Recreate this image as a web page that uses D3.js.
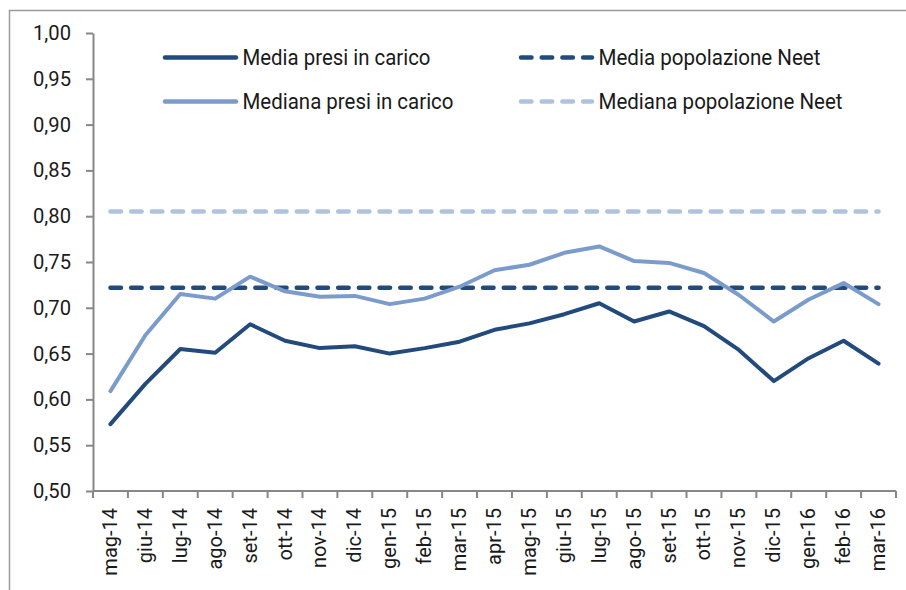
<!DOCTYPE html>
<html>
<head>
<meta charset="utf-8">
<script src="https://cdn.jsdelivr.net/npm/d3@7"></script>
<style>
  body { margin: 0; background: #fff; }
  text { font-family: "Roboto", "DejaVu Sans Condensed", sans-serif; fill: #1a1a1a; }
</style>
</head>
<body>
<svg id="chart" width="906" height="590"></svg>
<script>
// Months on the x axis
const months = ["mag-14", "giu-14", "lug-14", "ago-14", "set-14", "ott-14", "nov-14", "dic-14",
  "gen-15", "feb-15", "mar-15", "apr-15", "mag-15", "giu-15", "lug-15", "ago-15", "set-15",
  "ott-15", "nov-15", "dic-15", "gen-16", "feb-16", "mar-16"];

// Series values
const mediaPresi = [0.573, 0.617, 0.655, 0.651, 0.682, 0.664, 0.656, 0.658, 0.650, 0.656, 0.663,
  0.676, 0.683, 0.693, 0.705, 0.685, 0.696, 0.680, 0.654, 0.620, 0.645, 0.664, 0.639];
const medianaPresi = [0.609, 0.670, 0.715, 0.710, 0.734, 0.718, 0.712, 0.713, 0.704, 0.710, 0.723,
  0.741, 0.747, 0.760, 0.767, 0.751, 0.749, 0.738, 0.714, 0.685, 0.709, 0.727, 0.704];
const mediaNeet = 0.722;
const medianaNeet = 0.805;

const yTicks = [0.50, 0.55, 0.60, 0.65, 0.70, 0.75, 0.80, 0.85, 0.90, 0.95, 1.00];

// width is the rendered width of the label in the original (condensed font)
const legendItems = [
  { label: "Media presi in carico", color: "#234a7c", dash: null, width: 188 },
  { label: "Media popolazione Neet", color: "#234a7c", dash: "10.5,10.2", width: 222 },
  { label: "Mediana presi in carico", color: "#7b9ccb", dash: null, width: 211 },
  { label: "Mediana popolazione Neet", color: "#b0c2dd", dash: "10.5,10.2", width: 244 }
];

const svg = d3.select("#chart");
const axisColor = "#878787";

// Outer frame (only top and left edges are visible)
svg.append("path")
  .attr("d", "M9.5,590 V10.5 H906")
  .attr("fill", "none")
  .attr("stroke", "#9a9a9a")
  .attr("stroke-width", 1.5);

const x = d3.scaleBand()
  .domain(months)
  .range([93, 896]);

const y = d3.scaleLinear()
  .domain([0.5, 1.0])
  .range([491, 33]);

const fmt = v => d3.format(".2f")(v).replace(".", ",");

// Y axis
let yAxis = svg.append("g")
  .attr("transform", "translate(93,0)")
  .call(d3.axisLeft(y).tickValues(yTicks).tickFormat(fmt).tickSize(7).tickPadding(15).tickSizeOuter(0));
yAxis.select(".domain").attr("stroke", axisColor).attr("stroke-width", 2);
yAxis.selectAll(".tick line").attr("stroke", axisColor).attr("stroke-width", 2);
yAxis.selectAll("text")
  .style("font-size", "20px")
  .attr("fill", "#1a1a1a")
  .attr("textLength", 38)
  .attr("lengthAdjust", "spacingAndGlyphs");

// X axis, ticks between the months
let xAxis = svg.append("g")
  .attr("transform", "translate(0,491)");
xAxis.append("line")
  .attr("x1", x.range()[0]).attr("x2", x.range()[1])
  .attr("stroke", axisColor).attr("stroke-width", 2);
xAxis.selectAll("line.tk")
  .data(months.concat(["end"]))
  .enter()
  .append("line")
  .attr("class", "tk")
  .attr("x1", (d, i) => x.range()[0] + i * x.step())
  .attr("x2", (d, i) => x.range()[0] + i * x.step())
  .attr("y1", 0).attr("y2", 7)
  .attr("stroke", axisColor).attr("stroke-width", 2);
xAxis.selectAll("text")
  .data(months)
  .enter()
  .append("text")
  .attr("transform", d => `translate(${x(d) + x.bandwidth() / 2 + 6.5},17) rotate(-90)`)
  .attr("text-anchor", "end")
  .style("font-size", "20px")
  .text(d => d);

const cx = d => x(d) + x.bandwidth() / 2;

// Dashed reference lines
const xs = [months[0], months[months.length - 1]];
svg.append("line")
  .attr("x1", cx(xs[0])).attr("x2", cx(xs[1]))
  .attr("y1", y(medianaNeet)).attr("y2", y(medianaNeet))
  .attr("stroke", "#b0c2dd").attr("stroke-width", 4.5)
  .attr("stroke-linecap", "round").attr("stroke-dasharray", "10.5,10.2");
svg.append("line")
  .attr("x1", cx(xs[0])).attr("x2", cx(xs[1]))
  .attr("y1", y(mediaNeet)).attr("y2", y(mediaNeet))
  .attr("stroke", "#234a7c").attr("stroke-width", 4.5)
  .attr("stroke-linecap", "round").attr("stroke-dasharray", "10.5,10.2");

const line = d3.line()
  .x((d, i) => cx(months[i]))
  .y(d => y(d));

svg.append("path")
  .datum(medianaPresi)
  .attr("d", line)
  .attr("fill", "none")
  .attr("stroke", "#7b9ccb")
  .attr("stroke-width", 4)
  .attr("stroke-linejoin", "round")
  .attr("stroke-linecap", "round");

svg.append("path")
  .datum(mediaPresi)
  .attr("d", line)
  .attr("fill", "none")
  .attr("stroke", "#234a7c")
  .attr("stroke-width", 4)
  .attr("stroke-linejoin", "round")
  .attr("stroke-linecap", "round");

// Legend: two columns, two rows
const legend = svg.append("g");
const item = legend.selectAll("g")
  .data(legendItems)
  .enter()
  .append("g")
  .attr("transform", (d, i) => `translate(${i % 2 === 0 ? 165 : 521},${i < 2 ? 57.5 : 101.5})`);
item.append("line")
  .attr("x1", 0).attr("x2", 71)
  .attr("stroke", d => d.color)
  .attr("stroke-width", 4.5)
  .attr("stroke-linecap", "round")
  .attr("stroke-dasharray", d => d.dash);
item.append("text")
  .attr("x", 77.5)
  .attr("y", 7.5)
  .style("font-size", "22px")
  .attr("textLength", d => d.width)
  .attr("lengthAdjust", "spacingAndGlyphs")
  .text(d => d.label);
</script>
</body>
</html>
